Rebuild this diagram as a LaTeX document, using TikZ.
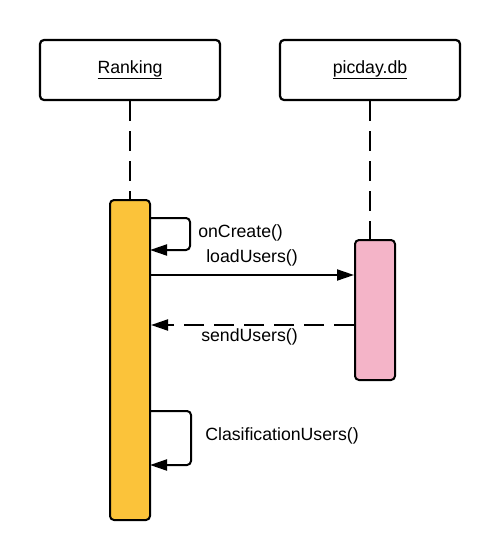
\documentclass[tikz,border=0pt]{standalone}
\usepackage{fontspec}
\setmainfont{Liberation Sans}
\usetikzlibrary{arrows.meta,positioning,shapes}
\newcommand{\msgfont}{\fontsize{17.7}{19}\selectfont}

\begin{document}
\begin{tikzpicture}[x=1pt,y=-1pt,semithick,
    object/.style={draw,line width=2.2pt,rounded corners=4pt,minimum width=180pt,minimum height=60pt,font=\msgfont},
    activation/.style={draw,line width=2pt,rounded corners=4pt,minimum width=40pt},
    lifeline/.style={line width=2pt,dash pattern=on 20pt off 10pt},
    call/.style={line width=2pt,-{Triangle[length=17pt,width=11pt]}},
    reply/.style={call,dash pattern=on 20pt off 10pt},
    label/.style={font=\msgfont,inner sep=0pt}]
      \useasboundingbox (0,0) rectangle (500,560);

      \node (ranking) [object] at (130,70)  {\underline{Ranking}};
      \node (picday)  [object] at (370,70)  {\underline{picday.db}};

      \node (rankact) [activation,fill={rgb,255:red,251;green,195;blue,58},minimum height=320pt] at (130,360) {};
      \node (dbact)   [activation,fill={rgb,255:red,244;green,180;blue,200},minimum height=140pt] at (375,310) {};

      \path (ranking.south) edge [lifeline] (rankact.north);
      \path (picday.south)  edge [lifeline] (picday.south |- dbact.north);

      % messages
      \coordinate (c1) at (150,218);
      \coordinate (c2) at (150,250);
      \coordinate (c3) at (150,411);
      \coordinate (c4) at (150,465);
      \draw [call,rounded corners=4pt] (c1) -- ++(40,0) |- (c2);
      \draw [call,rounded corners=4pt] (c3) -- ++(41,0) |- (c4);
      \draw [call]  (rankact.east |- 0,275) -- (dbact.west |- 0,275);
      \draw [reply] (dbact.west |- 0,325) -- (rankact.east |- 0,325);

      \node (oncreate) [label,anchor=west] at (198,233) {onCreate()};
      \node (load)     [label,anchor=west] at (206,258) {loadUsers()};
      \node (send)     [label,anchor=west] at (201,337) {sendUsers()};
      \node (clasif)   [label,anchor=west] at (205,436) {ClasificationUsers()};
\end{tikzpicture}
\end{document}
